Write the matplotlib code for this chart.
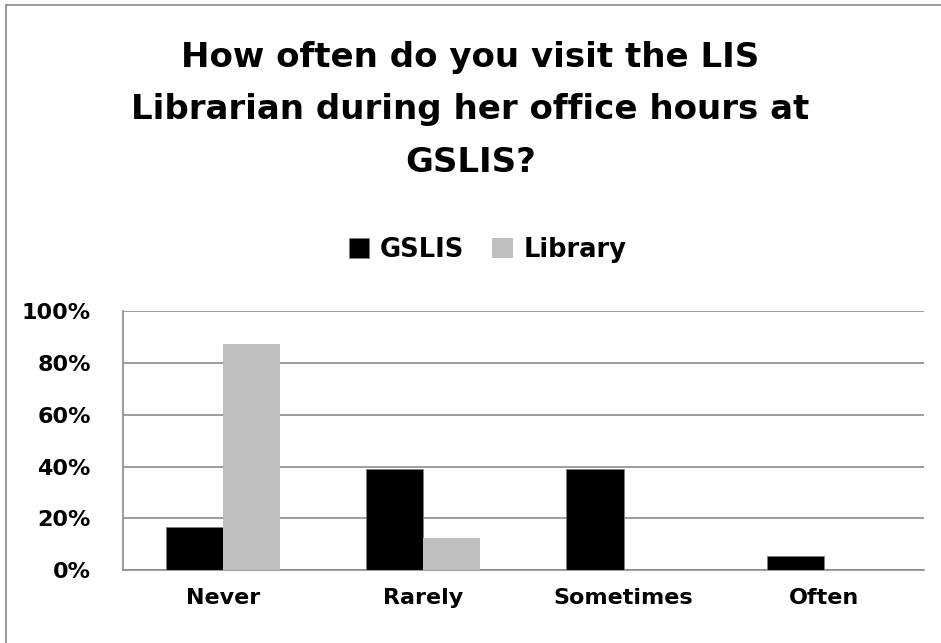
import matplotlib.pyplot as plt
import numpy as np

# Dados
categorias = ['Never', 'Rarely', 'Sometimes', 'Often']
gslis = [0.167, 0.389, 0.389, 0.056]
library = [0.875, 0.125, 0.0, 0.0]
series = ['GSLIS', 'Library']

plt.rcParams['font.family'] = ['DejaVu Sans']
plt.rcParams['font.weight'] = 'bold'

fig = plt.figure(figsize=(9.41, 6.43), dpi=100)
ax = fig.add_axes([0.1304, 0.1135, 0.8516, 0.4024])

x = np.arange(len(categorias))
w = 0.285
ax.bar(x - w / 2, gslis, w, color='black', edgecolor='#808080', linewidth=0.6, label=series[0], zorder=3)
ax.bar(x + w / 2, library, w, color='#bfbfbf', linewidth=0, label=series[1], zorder=3)

ax.set_xlim(-0.5, 3.5)
ax.set_ylim(0, 1)
ax.set_yticks(np.arange(0, 1.01, 0.2))
ax.set_yticklabels([f'{int(round(v * 100))}%' for v in np.arange(0, 1.01, 0.2)], fontsize=16, fontweight='bold')
ax.set_xticks(x)
ax.set_xticklabels(categorias, fontsize=16, fontweight='bold')
ax.tick_params(axis='both', length=0)
ax.tick_params(axis='y', pad=23)
ax.tick_params(axis='x', pad=13)
ax.yaxis.grid(True, color='#8c8c8c', linewidth=1.2, zorder=0)
for s in ['top', 'right']:
    ax.spines[s].set_visible(False)
for s in ['left', 'bottom']:
    ax.spines[s].set_color('#8c8c8c')
    ax.spines[s].set_linewidth(1.2)

fig.text(0.5, 0.829, 'How often do you visit the LIS\nLibrarian during her office hours at\nGSLIS?',
         ha='center', va='center', fontsize=24.5, fontweight='bold', linespacing=1.74)

leg = fig.legend(loc='center', bbox_to_anchor=(0.518, 0.611), ncol=2, frameon=False,
                 fontsize=18.5, handlelength=0.8, handleheight=0.8, handletextpad=0.4, columnspacing=1.1)
for t in leg.get_texts():
    t.set_fontweight('bold')

# moldura
fig.add_artist(plt.Line2D([0.006, 0.006], [0, 0.992], color='#888888', linewidth=1.2))
fig.add_artist(plt.Line2D([0.006, 1], [0.992, 0.992], color='#888888', linewidth=1.2))

plt.savefig('out.png', dpi=100)
